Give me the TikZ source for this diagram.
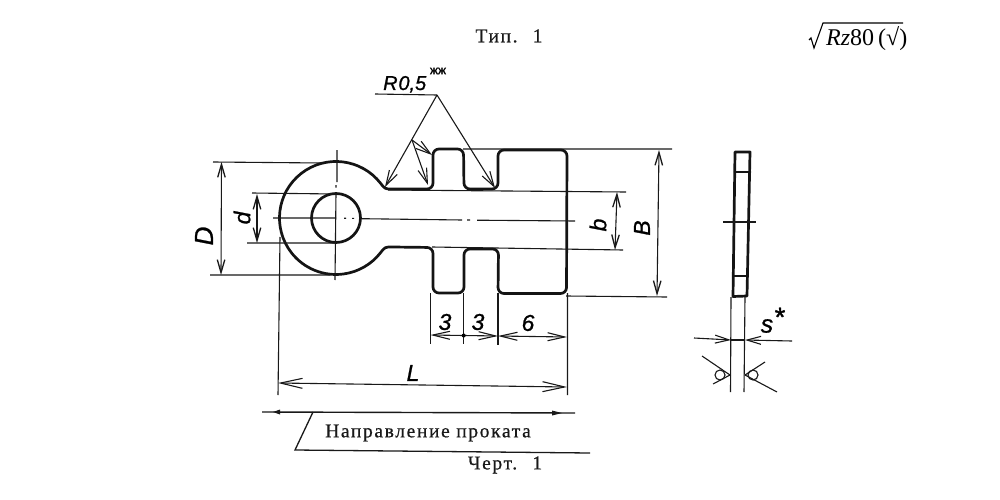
\documentclass[tikz,border=0pt]{standalone}
\usepackage{fontspec}
\setmainfont{Liberation Serif}
\newfontfamily\handfont[RawFeature={embolden=0.9}]{Liberation Sans Italic}
\newfontfamily\handbold[RawFeature={embolden=1.5}]{Liberation Sans}
\newfontfamily\typefont[LetterSpace=8.4,RawFeature={embolden=0.6}]{Liberation Serif}
\usetikzlibrary{arrows.meta}
\tikzset{
  contour/.style={line width=2.7pt,line join=round,line cap=round,black!92},
  thin line/.style={line width=1.1pt,black!90},
  dim/.style={line width=1.1pt,black!90,{Straight Barb[length=13pt,width=7.5pt,line width=1.3pt]}-{Straight Barb[length=13pt,width=7.5pt,line width=1.3pt]}},
  long dim/.style={line width=1.1pt,black!90,{Straight Barb[length=22pt,width=10pt,line width=1.1pt]}-{Straight Barb[length=22pt,width=10pt,line width=1.1pt]}},
  left tip/.style={line width=1.1pt,black!90,{Straight Barb[length=17pt,width=8pt,line width=1.1pt]}-},
  right tip/.style={line width=1.1pt,black!90,-{Straight Barb[length=17pt,width=8pt,line width=1.1pt]}},
  both tips/.style={line width=1.1pt,black!90,{Straight Barb[length=17pt,width=8pt,line width=1.1pt]}-{Straight Barb[length=17pt,width=8pt,line width=1.1pt]}},
  leader tip/.style={line width=1.1pt,black!90,-{Straight Barb[length=15pt,width=9pt,line width=1.1pt]}},
  hand/.style={font=\handfont\fontsize{23}{23}\selectfont,inner sep=0pt},
  typed/.style={font=\typefont\fontsize{19.5}{19.5}\selectfont,inner sep=0pt,black!90},
}
\begin{document}
\begin{tikzpicture}[x=1pt,y=-1pt]
\useasboundingbox (0,0) rectangle (1000,500);
\fill[white] (0,0) rectangle (1000,500);

% part contour
\draw[contour] (380.5,183.2) arc[start angle=-38,end angle=-322,radius=56.5]
  .. controls (385,247) .. (392,247) [rounded corners=6pt] -- (433,247.5) -- (433,293) -- (464,293) -- (464,249) -- (498.5,249) -- (498,293.5) -- (566.5,293.5) -- (567,150) -- (498,150) -- (498,189) -- (464,189) -- (463.5,149) -- (433,149) -- (433,189) [sharp corners] -- (392,189) .. controls (385,189) .. (380.5,183.2);
\draw[contour] (336,218) circle[radius=24.5];

% centre lines
\draw[thin line] (273,218) -- (336,218) (344,218.2) -- (346,218.2) (352,218.3) -- (354,218.3) (362,218.7) -- (462,220) (467,220) -- (470,220) (477,220.2) -- (575,221);
\draw[thin line] (337,150) -- (337,182) (336,185) -- (336,187.5) (336,193) -- (335,280);

% extension lines
\draw[thin line] (213,162) -- (322,163) (210,275) -- (330,275);
\draw[thin line] (252,193) -- (335,194) (247,243) -- (335,243);
\draw[thin line] (388,190) -- (626,192) (432,247) -- (623,250);
\draw[thin line] (463,149) -- (672,149) (566,296) -- (667,297);
\draw[thin line] (280,237) -- (278,395) (567.5,293) -- (567.5,395);
\draw[thin line] (430.5,293) -- (430.5,344) (463.7,293) -- (463.7,344) (498,293) -- (498,345);

% dimension lines
\draw[dim] (221.5,162) -- (221,275);
\draw[dim] (257,194) -- (257,243);
\draw[dim] (617,192) -- (615,250);
\draw[dim] (659,150) -- (657,296);
\draw[left tip] (430.5,335) -- (463.7,335.5);
\draw[right tip] (463.7,335.5) -- (498,336);
\draw[both tips] (498,336) -- (567,337);
\fill (463.7,335.5) circle[radius=2];
\draw[long dim] (278,383) -- (567,387);

% radius leaders
\draw[thin line] (375,94) -- (437,95);
\draw[leader tip] (437,95) -- (385,187);
\draw[leader tip] (437,95) -- (495,188);
\draw[leader tip] (412,140) -- (428,185);
\draw[leader tip] (412,140) -- (432,155);

% rolling direction
\draw[line width=1.4pt,black!90] (262,412) -- (575,413);
\fill[black!90] (273,412) -- (280,409.5) -- (280,414.5) -- cycle;
\fill[black!90] (562,413) -- (552,410.5) -- (552,415.5) -- cycle;
\draw[line width=1.3pt,black!90] (313,412) -- (295,450) -- (590,453);

% side view
\draw[contour] (735,152) -- (750,152) -- (747,296) -- (733,296.5) -- cycle;
\draw[contour] (735,172) -- (750,172) (733.5,276) -- (747.5,276);
\draw[thin line] (723,222) -- (756,222);
\draw[thin line] (731,297) -- (730.5,392) (745,297) -- (744,392);
\draw[thin line,-{Straight Barb[length=14pt,width=8pt,line width=1.1pt]}] (694,338) -- (731,340);
\draw[thin line,-{Straight Barb[length=14pt,width=8pt,line width=1.1pt]}] (792,341) -- (745,340);
\draw[thin line] (731,340) -- (745,340);
\draw[thin line] (702,356) -- (730,375) -- (713,384);
\draw[thin line] (720,375) circle[radius=5];
\draw[thin line] (765,362) -- (745,375) -- (777,392);
\draw[thin line] (753,375) circle[radius=5];

% labels
\node[hand,font=\handfont\fontsize{26}{26}\selectfont,rotate=90] (labD) at (204,236) {D};
\node[hand,rotate=90] (labd) at (242,218) {d};
\node[hand,rotate=90] (labb) at (598,225) {b};
\node[hand,rotate=90] (labB) at (642,228) {B};
\node[hand] (lab3a) at (445,322) {3};
\node[hand] (lab3b) at (478,322) {3};
\node[hand] (lab6) at (528,323) {6};
\node[hand] (labL) at (413,373) {L};
\node[hand,font=\handfont\fontsize{20}{20}\selectfont,anchor=base west] (labR) at (383,90) {R\kern0.8pt 0,5};
\node[font=\handbold\fontsize{12}{12}\selectfont,inner sep=0pt] (labxx) at (438,71) {жж};
\node[hand,font=\handfont\fontsize{25}{25}\selectfont] (labs) at (767,326) {s};
\node[hand,font=\handbold\fontsize{27}{27}\selectfont] (labstar) at (780,317) {*};
\node[typed] (labtype) at (509,36) {Тип. \ 1};
\node[typed] (labrolling) at (428,433) {Направление проката};
\node[typed] (labdraw) at (505,465) {Черт. \ 1};

% roughness sign
\draw[line width=1.1pt] (809,40) -- (811,38) -- (814,48) -- (823,23) -- (903,23);
\node[inner sep=0pt,anchor=base west,font=\fontsize{24}{24}\selectfont] (labRz) at (826,46) {\textit{Rz}80\,(√)};
\end{tikzpicture}
\end{document}
